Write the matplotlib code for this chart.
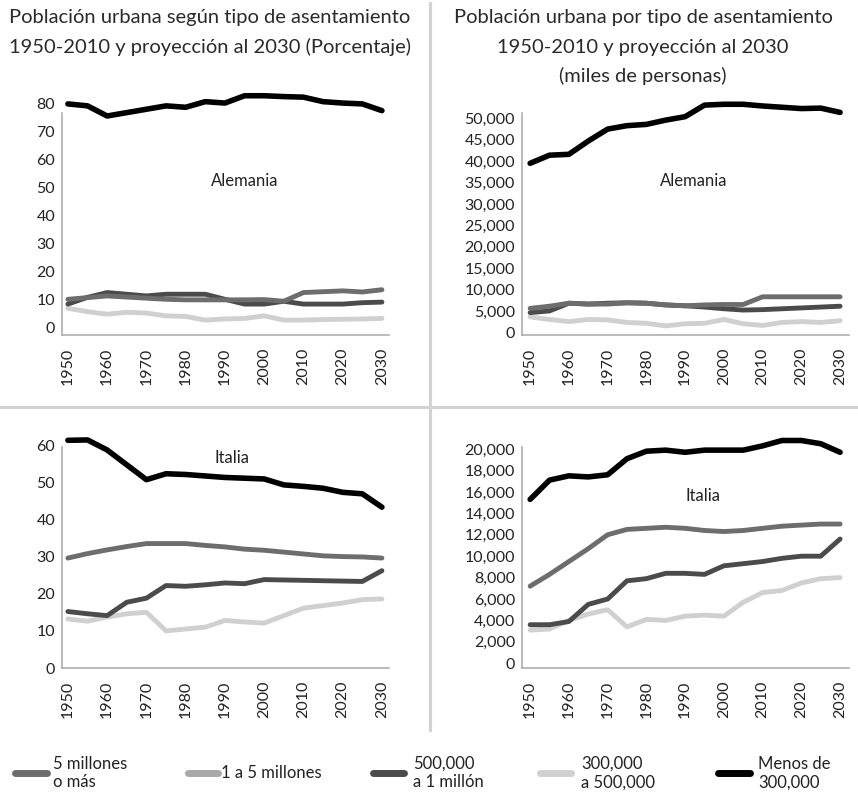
import matplotlib
matplotlib.use("Agg")
import matplotlib.pyplot as plt
from matplotlib.lines import Line2D
from matplotlib.ticker import FuncFormatter

plt.rcParams['font.family'] = ['Lato', 'DejaVu Sans']

W, H = 858, 793

years = list(range(1950, 2031, 5))

legend_labels = ["5 millones\no más", "1 a 5 millones", "500,000\na 1 millón",
                 "300,000\na 500,000", "Menos de\n300,000"]
legend_colors = ["#6d6d6d", "#a8a8a8", "#4b4b4b", "#d0d0d0", "#000000"]

# ---- Alemania (porcentaje) ----
de_pct_medium = [10.2, 10.8, 11.4, 11.0, 10.6, 10.2, 10.0, 10.0, 10.0, 10.0, 10.1, 9.5, 12.6, 12.9, 13.2, 12.8, 13.6]
de_pct_dark = [8.5, 10.9, 12.6, 12.0, 11.4, 12.0, 12.0, 12.0, 10.2, 8.5, 8.5, 9.5, 8.5, 8.5, 8.5, 9.0, 9.2]
de_pct_light = [7.0, 5.8, 4.9, 5.6, 5.3, 4.3, 4.1, 2.8, 3.2, 3.4, 4.3, 2.8, 2.8, 3.0, 3.1, 3.2, 3.4]
de_pct_black = [79.7, 79.0, 75.4, 76.6, 77.8, 79.0, 78.5, 80.5, 80.0, 82.6, 82.6, 82.3, 82.1, 80.5, 80.0, 79.7, 77.3]

# ---- Alemania (miles de personas) ----
de_abs_medium = [5600, 6100, 6800, 6600, 6600, 6900, 6800, 6400, 6200, 6400, 6500, 6500, 8300, 8300, 8300, 8300, 8300]
de_abs_dark = [4600, 5000, 6800, 6600, 6800, 6900, 6800, 6400, 6200, 5900, 5500, 5200, 5300, 5500, 5700, 5900, 6100]
de_abs_light = [3600, 3000, 2500, 3000, 2900, 2300, 2100, 1500, 2000, 2100, 3000, 2000, 1600, 2300, 2500, 2300, 2700]
de_abs_black = [39500, 41400, 41600, 44700, 47500, 48300, 48600, 49600, 50400, 53100, 53300, 53300, 52900, 52600, 52300, 52400, 51400]

# ---- Italia (porcentaje) ----
it_pct_medium = [29.6, 30.8, 31.8, 32.7, 33.5, 33.5, 33.5, 33.0, 32.6, 32.0, 31.7, 31.2, 30.7, 30.2, 30.0, 29.9, 29.6]
it_pct_dark = [15.2, 14.6, 14.1, 17.7, 18.8, 22.2, 22.0, 22.4, 22.9, 22.7, 23.8, 23.7, 23.6, 23.5, 23.4, 23.3, 26.2]
it_pct_light = [13.2, 12.6, 13.7, 14.6, 15.0, 10.0, 10.5, 11.0, 12.8, 12.4, 12.1, 14.1, 16.1, 16.8, 17.5, 18.4, 18.6]
it_pct_black = [61.3, 61.4, 58.7, 54.7, 50.7, 52.3, 52.1, 51.7, 51.3, 51.1, 50.9, 49.3, 48.9, 48.4, 47.3, 46.9, 43.3]

# ---- Italia (miles de personas) ----
it_abs_medium = [7200, 8300, 9500, 10700, 12000, 12500, 12600, 12700, 12600, 12400, 12300, 12400, 12600, 12800, 12900, 13000, 13000]
it_abs_dark = [3600, 3600, 3900, 5500, 6000, 7700, 7900, 8400, 8400, 8300, 9100, 9300, 9500, 9800, 10000, 10000, 11600]
it_abs_light = [3100, 3200, 4000, 4600, 5000, 3400, 4100, 4000, 4400, 4500, 4400, 5700, 6600, 6800, 7500, 7900, 8000]
it_abs_black = [15300, 17100, 17500, 17400, 17600, 19100, 19800, 19900, 19700, 19900, 19900, 19900, 20300, 20800, 20800, 20500, 19700]

col_medium, col_dark, col_light, col_black = "#6d6d6d", "#4b4b4b", "#d0d0d0", "#000000"

fig = plt.figure(figsize=(W / 100, H / 100), dpi=100)


def px_axes(left, right, bottom, top):
    return [left / W, 1 - bottom / H, (right - left) / W, (bottom - top) / H]


panels = [
    dict(rect=px_axes(62, 389, 335, 89), xlim=(1948.5, 2031.8), ylim=(-2.5, 85), spine_top=76.4,
         yt=range(0, 81, 10), fmt=lambda v, p: f"{int(v)}",
         data=(de_pct_medium, de_pct_dark, de_pct_light, de_pct_black),
         label="Alemania", lab_xy=(245, 181)),
    dict(rect=px_axes(522, 849, 335, 97), xlim=(1947.9, 2032.3), ylim=(-630, 55000), spine_top=51200,
         yt=range(0, 50001, 5000), fmt=lambda v, p: f"{int(v):,}",
         data=(de_abs_medium, de_abs_dark, de_abs_light, de_abs_black),
         label="Alemania", lab_xy=(694, 181)),
    dict(rect=px_axes(62, 389, 668, 434), xlim=(1948.5, 2031.8), ylim=(0, 63), spine_top=59.5,
         yt=range(0, 61, 10), fmt=lambda v, p: f"{int(v)}",
         data=(it_pct_medium, it_pct_dark, it_pct_light, it_pct_black),
         label="Italia", lab_xy=(232, 458)),
    dict(rect=px_axes(522, 849, 668, 433), xlim=(1947.9, 2032.3), ylim=(-440, 21500), spine_top=20200,
         yt=range(0, 20001, 2000), fmt=lambda v, p: f"{int(v):,}",
         data=(it_abs_medium, it_abs_dark, it_abs_light, it_abs_black),
         label="Italia", lab_xy=(703, 496)),
]

for p in panels:
    ax = fig.add_axes(p["rect"])
    ax.set_facecolor("none")
    med, dark, light, black = p["data"]
    kw = dict(solid_capstyle="round", solid_joinstyle="round", clip_on=False)
    ax.plot(years, light, color=col_light, lw=3.5, **kw)
    ax.plot(years, dark, color=col_dark, lw=3.5, **kw)
    ax.plot(years, med, color=col_medium, lw=3.5, **kw)
    ax.plot(years, black, color=col_black, lw=4.0, **kw)
    ax.set_xlim(*p["xlim"])
    ax.set_ylim(*p["ylim"])
    ax.set_xticks(range(1950, 2031, 10))
    ax.set_yticks(list(p["yt"]))
    ax.yaxis.set_major_formatter(FuncFormatter(p["fmt"]))
    for s in ("top", "right"):
        ax.spines[s].set_visible(False)
    for s in ("left", "bottom"):
        ax.spines[s].set_color("#a8a8a8")
        ax.spines[s].set_linewidth(1.1)
    ax.spines["left"].set_bounds(p["ylim"][0], p["spine_top"])
    ax.tick_params(axis="both", length=0, labelsize=11.5, colors="#222222")
    ax.tick_params(axis="y", pad=5)
    ax.tick_params(axis="x", pad=9)
    for t in ax.get_xticklabels():
        t.set_rotation(90)
    fig.text(p["lab_xy"][0] / W, 1 - p["lab_xy"][1] / H, p["label"], ha="center", va="center",
             fontsize=12, color="#222222")

# titles
title_l = ["Población urbana según tipo de asentamiento",
           "1950-2010 y proyección al 2030 (Porcentaje)"]
title_r = ["Población urbana por tipo de asentamiento",
           "1950-2010 y proyección al 2030",
           "(miles de personas)"]
for i, line in enumerate(title_l):
    fig.text(210 / W, 1 - (18 + 29 * i) / H, line, ha="center", va="center", fontsize=14.5,
             color="#2a2a2a")
for i, line in enumerate(title_r):
    fig.text(643 / W, 1 - (18 + 29 * i) / H, line, ha="center", va="center", fontsize=14.5,
             color="#2a2a2a")

# dividers
fig.add_artist(Line2D([430 / W, 430 / W], [1 - 3 / H, 1 - 730 / H], color="#d3d3d3", lw=2.2))
fig.add_artist(Line2D([0, 1], [1 - 407 / H, 1 - 407 / H], color="#d3d3d3", lw=2.2))

# legend
sw_x = [(15, 47), (188, 218), (373, 404), (540, 571), (718, 750)]
tx_x = [53, 221, 413, 581, 758]
for (x0, x1), tx, lab, col in zip(sw_x, tx_x, legend_labels, legend_colors):
    yy = 1 - 773 / H
    fig.add_artist(Line2D([x0 / W, x1 / W], [yy, yy], color=col, lw=5, solid_capstyle="round"))
    fig.text(tx / W, yy, lab, ha="left", va="center", fontsize=12, color="#222222", linespacing=1.2)

fig.savefig("out.png", dpi=100)
